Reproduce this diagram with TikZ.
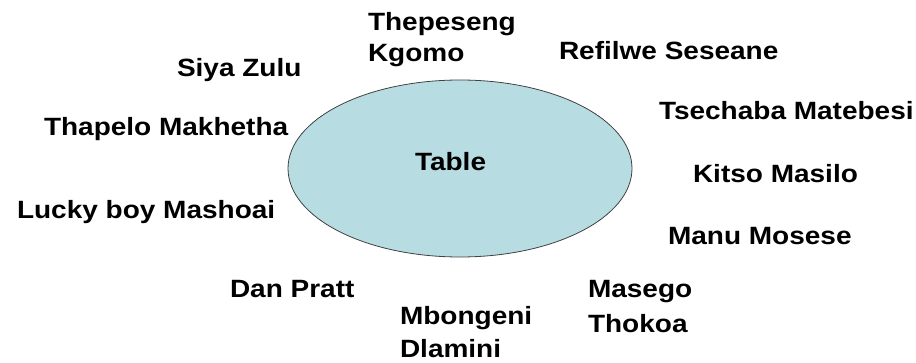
\documentclass[tikz,border=0pt]{standalone}
\usepackage{fontspec}
\setmainfont{Liberation Sans}
\usetikzlibrary{shapes,positioning}
\definecolor{tablefill}{RGB}{183,221,227}
\definecolor{tableline}{RGB}{64,64,64}
\tikzset{
    tablebox/.style={draw=tableline,fill=tablefill,ellipse,line width=0.8pt,minimum width=344pt,minimum height=177pt,inner sep=0pt},
    guest/.style={anchor=base west,inner sep=0pt,outer sep=0pt,xscale=1.12,align=left,font=\bfseries\fontsize{25}{35}\selectfont},
}
\begin{document}
\begin{tikzpicture}[x=1pt,y=-1pt]
                \useasboundingbox (0,0) rectangle (916,363);
                \node[tablebox] (t) at (460,168.5) {};
                \node[guest] (tl) at (415,171) {Table};
                % base anchor sits on the last line
                \node[guest] (a) at (368,62) {Thepeseng\\[-4pt]Kgomo};
                \node[guest] (b) at (559,60) {Refilwe Seseane};
                \node[guest] (c) at (659,120) {Tsechaba Matebesi};
                \node[guest] (d) at (693,183) {Kitso Masilo};
                \node[guest] (e) at (668,245) {Manu Mosese};
                \node[guest] (f) at (588,333) {Masego\\Thokoa};
                \node[guest] (g) at (400,358) {Mbongeni\\[-2pt]Dlamini};
                \node[guest] (h) at (230,298) {Dan Pratt};
                \node[guest] (i) at (17,219) {Lucky boy Mashoai};
                \node[guest] (j) at (44,136) {Thapelo Makhetha};
                \node[guest] (k) at (177,77) {Siya Zulu};
            \end{tikzpicture}
\end{document}
